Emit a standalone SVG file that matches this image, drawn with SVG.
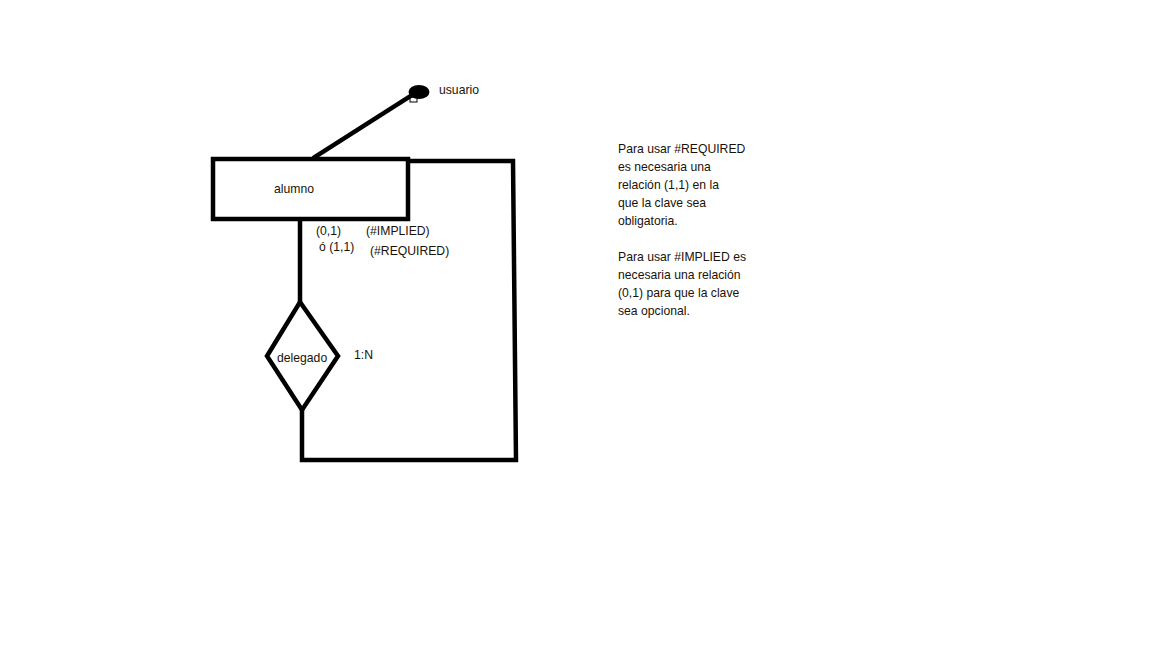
<svg xmlns="http://www.w3.org/2000/svg" width="1152" height="648" viewBox="0 0 1152 648">
<style>
.s{fill:none;stroke:#000;stroke-width:4.5;stroke-linejoin:miter;stroke-linecap:square}
text{font-family:"Liberation Sans",Arial,sans-serif;font-size:12.2px;fill:#1a1208}
</style>
<rect width="1152" height="648" fill="#fff"/>
<g id="connectors">
<line class="s" x1="315" y1="157" x2="412" y2="95"/>
<polyline class="s" points="410,161 513,161 516,460 302,460 302,410"/>
<line class="s" x1="300" y1="221" x2="300" y2="301"/>
</g>
<g id="usuario">
<ellipse cx="419" cy="92" rx="10.5" ry="7" fill="#000"/>
<rect x="410" y="97" width="7" height="5" fill="none" stroke="#000" stroke-width="1"/>
<text x="439" y="94">usuario</text>
</g>
<g id="alumno">
<rect class="s" x="213" y="159" width="195" height="60"/>
<text x="274" y="193">alumno</text>
</g>
<g id="delegado">
<polygon class="s" points="300,302 338,356 302,410 267,356"/>
<text x="277" y="362">delegado</text>
</g>
<g id="labels">
<text x="316" y="235">(0,1)</text>
<text x="366" y="235">(#IMPLIED)</text>
<text x="319" y="251">ó (1,1)</text>
<text x="370" y="255">(#REQUIRED)</text>
<text x="354" y="359">1:N</text>
</g>
<g id="note">
<text x="618" y="153">Para usar #REQUIRED</text>
<text x="618" y="171">es necesaria una</text>
<text x="618" y="189">relación (1,1) en la</text>
<text x="618" y="207">que la clave sea</text>
<text x="618" y="225">obligatoria.</text>
<text x="618" y="261">Para usar #IMPLIED es</text>
<text x="618" y="279">necesaria una relación</text>
<text x="618" y="297">(0,1) para que la clave</text>
<text x="618" y="315">sea opcional.</text>
</g>
</svg>
